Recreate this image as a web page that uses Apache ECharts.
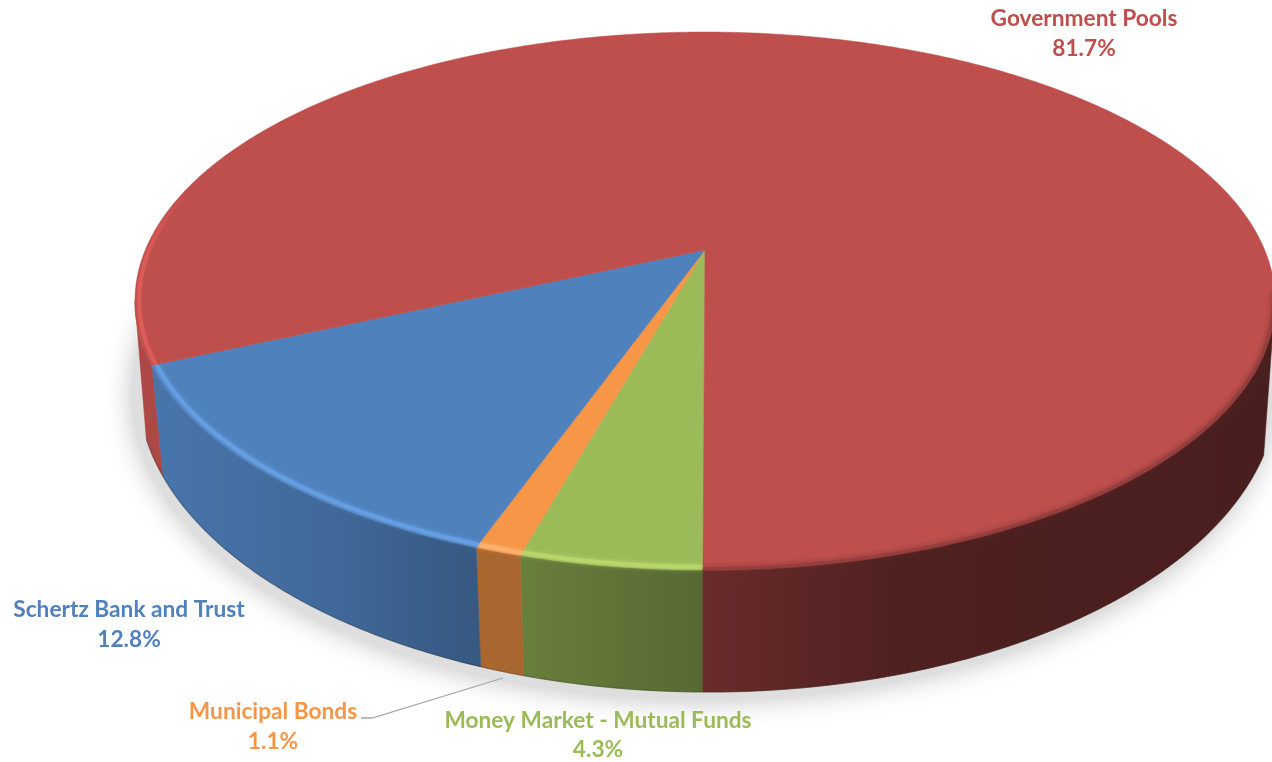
<!DOCTYPE html>
<html>
<head>
<meta charset="utf-8">
<style>html,body{margin:0;padding:0;background:#fff;overflow:hidden}#c{width:1272px;height:762px}</style>
<script src="https://cdn.jsdelivr.net/npm/echarts@6/dist/echarts.min.js"></script>
</head>
<body>
<div id="c"></div>
<script>
// Data, clockwise from the bottom of the pie
const categories = ['Money Market - Mutual Funds', 'Municipal Bonds', 'Schertz Bank and Trust', 'Government Pools'];
const shares = [4.3, 1.1, 12.8, 81.7];
const colors = ['#9BBB59', '#F79646', '#4F81BD', '#BE4F4D'];
const rimColors = ['#B7D76C', '#FFB06C', '#669EE2', '#DE5C58'];

// Projection of the pie disc
const view = { cx: 705, apexY: 250, b: 211.9, c: -0.1896, d: 559.7, startDeg: 0.17,
  wallShift: 0.02, baseCx: 708, baseCy: 387, baseRx: 570, baseRy: 305, horizonDeg: 79.07 };
// Label placement
const labelSpots = [
  { x: 598, y1: 721, y2: 750 },
  { x: 273, y1: 712, y2: 742 },
  { x: 129, y1: 610, y2: 640 },
  { x: 1084, y1: 19, y2: 49 }
];
const total = shares.reduce((a, b) => a + b, 0);
const rad = d => d * Math.PI / 180;
function topPt(deg, r) {
  const u = -Math.sin(rad(deg)) * (r === undefined ? 1 : r);
  const v = Math.cos(rad(deg)) * (r === undefined ? 1 : r);
  const w = 1 + view.c * v;
  return [view.cx + view.d * u / w, (view.apexY + view.b * v) / w];
}
function basePt(deg) {
  const p = topPt(deg);
  const x = p[0] + (view.cx - p[0]) * view.wallShift;
  const k = (x - view.baseCx) / view.baseRx;
  return [x, view.baseCy + view.baseRy * Math.sqrt(Math.max(0, 1 - k * k))];
}
function sweep(a, b, fn) {
  const out = [], n = Math.max(2, Math.ceil(Math.abs(b - a) / 0.5));
  for (let i = 0; i <= n; i++) out.push(fn(a + (b - a) * i / n));
  return out;
}
function range(i) {
  let s = 0;
  for (let k = 0; k < i; k++) s += shares[k];
  return [view.startDeg + s / total * 360, view.startDeg + (s + shares[i]) / total * 360];
}
function shade(hex, f) {
  const n = parseInt(hex.slice(1), 16);
  return 'rgb(' + [(n >> 16) & 255, (n >> 8) & 255, n & 255].map(c => Math.round(c * f)).join(',') + ')';
}
function wallFill(hex) {
  const stops = [[0.10, 0.92], [0.25, 0.82], [0.37, 0.69], [0.41, 0.68], [0.553, 0.56], [0.62, 0.49], [0.72, 0.41], [1, 0.385]];
  return { type: 'linear', x: 0, y: 0, x2: 1272, y2: 0, global: true,
    colorStops: stops.map(s => ({ offset: s[0], color: shade(hex, s[1]) })) };
}
function visibleParts(a, b) {
  const parts = [];
  const h = view.horizonDeg;
  const a1 = Math.max(a, 0), b1 = Math.min(b, h);
  if (b1 > a1) parts.push([a1, b1]);
  const a2 = Math.max(a, 360 - h), b2 = Math.min(b, 360 + view.startDeg);
  if (b2 > a2) parts.push([a2, b2]);
  return parts;
}
function renderWall(params, api) {
  const i = params.dataIndex, r = range(i), children = [];
  api.value(0);
  visibleParts(r[0], r[1]).forEach(p => {
    const t = sweep(p[0], p[1], d => topPt(d)), bt = sweep(p[1], p[0], basePt);
    children.push({ type: 'polygon', shape: { points: t.concat(bt) },
      style: { fill: wallFill(colors[i]), stroke: wallFill(colors[i]), lineWidth: 0.6 } });
    children.push({ type: 'polyline', shape: { points: bt },
      style: { fill: 'none', stroke: shade(colors[i], 0.28), lineWidth: 1.2, opacity: 0.35 } });
  });
  return { type: 'group', children };
}
function renderFace(params, api) {
  const i = params.dataIndex, r = range(i), children = [];
  api.value(0);
  const pts = [topPt(0, 0)].concat(sweep(r[0], r[1], d => topPt(d)));
  children.push({ type: 'polygon', shape: { points: pts },
    style: { fill: colors[i], stroke: colors[i], lineWidth: 0.5 } });
  if (i < 3) {
    children.push({ type: 'polyline', shape: { points: sweep(r[0], r[1], d => topPt(d, 0.992)) },
      style: { fill: 'none', stroke: rimColors[i], lineWidth: 4, shadowBlur: 4, shadowColor: rimColors[i], lineCap: 'butt' } });
  } else {
    children.push({ type: 'polyline', shape: { points: sweep(r[0], 126, d => topPt(d, 0.993)) },
      style: { fill: 'none', lineWidth: 4, shadowBlur: 2, shadowColor: 'rgba(222,92,88,0.5)',
        stroke: { type: 'linear', x: 0, y: 370, x2: 0, y2: 190, global: true,
          colorStops: [{ offset: 0, color: rimColors[3] }, { offset: 0.5, color: rimColors[3] }, { offset: 1, color: 'rgba(222,92,88,0)' }] } } });
    children.push({ type: 'polyline', shape: { points: sweep(279, r[1], d => topPt(d, 0.998)) },
      style: { fill: 'none', lineWidth: 4, shadowBlur: 6, shadowColor: 'rgba(90,35,33,0.9)',
        stroke: 'rgba(140,58,56,0.6)' } });
  }
  return { type: 'group', children };
}
function renderShadow(params) {
  const pts = [];
  for (let a = 0; a < 360; a += 2) {
    pts.push([view.baseCx - 6 + view.baseRx * Math.sin(rad(a)), view.baseCy + 8 + view.baseRy * Math.cos(rad(a))]);
  }
  return { type: 'polygon', shape: { points: pts },
    style: { fill: '#DEDEDE', shadowBlur: 28, shadowColor: 'rgba(0,0,0,0.26)' } };
}
function renderLabel(params, api) {
  const i = params.dataIndex, s = labelSpots[i], font = 'bold 22.7px Lato, sans-serif';
  const children = [
    { type: 'text', style: { x: s.x, y: s.y1, text: categories[i], font, fill: colors[i], align: 'center', verticalAlign: 'middle' } },
    { type: 'text', style: { x: s.x, y: s.y2, text: api.value(0).toFixed(1) + '%', font, fill: colors[i], align: 'center', verticalAlign: 'middle' } }
  ];
  if (i === 1) {
    children.push({ type: 'polyline', shape: { points: [[361, 718], [372, 718], [503, 678]] },
      style: { fill: 'none', stroke: '#A6A6A6', lineWidth: 1.3 } });
  }
  return { type: 'group', children };
}
const data = shares.map(v => [v]);
const chart = echarts.init(document.getElementById('c'), null, { renderer: 'canvas' });
const common = { type: 'custom', coordinateSystem: 'none', silent: true, animation: false, clip: false };
chart.setOption({
  animation: false,
  backgroundColor: '#fff',
  series: [
    Object.assign({}, common, { name: 'shadow', data: [[1]], renderItem: renderShadow, z: 1 }),
    Object.assign({}, common, { name: 'walls', data, renderItem: renderWall, z: 2 }),
    Object.assign({}, common, { name: 'faces', data, renderItem: renderFace, z: 3 }),
    Object.assign({}, common, { name: 'labels', data, renderItem: renderLabel, z: 4 })
  ]
});
</script>
</body>
</html>
